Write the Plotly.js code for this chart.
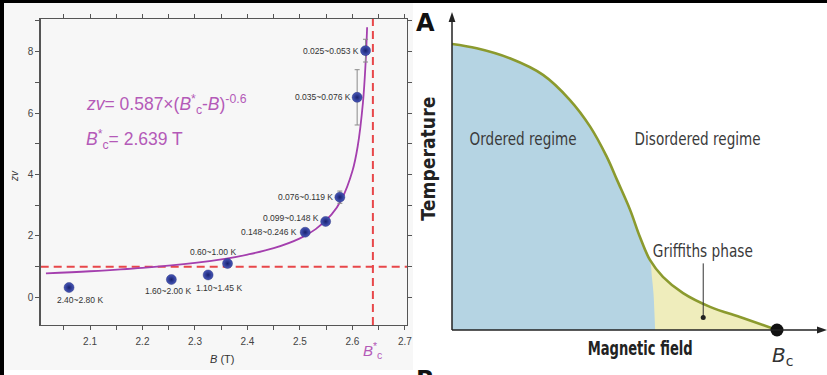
<!DOCTYPE html>
<html><head><meta charset="utf-8">
<script src="https://cdn.plot.ly/plotly-3.0.1.min.js"></script>
<style>html,body{margin:0;padding:0;background:#fff;}#chart{width:827px;height:375px;}</style>
</head><body><div id="chart"></div>
<script>
// ---------- Left panel: zv versus B ----------
const fieldB   = [2.060, 2.255, 2.325, 2.362, 2.510, 2.549, 2.576, 2.609, 2.625];
const zNu      = [0.32, 0.58, 0.73, 1.10, 2.12, 2.47, 3.26, 6.51, 8.03];
const zNuErr   = [null, null, null, null, null, null, 0.2, 0.9, 0.37];
const tempRanges = ['2.40~2.80 K','1.60~2.00 K','1.10~1.45 K','0.60~1.00 K','0.148~0.246 K',
                    '0.099~0.148 K','0.076~0.119 K','0.035~0.076 K','0.025~0.053 K'];
// fitted curve
const fitB   = [2.016, 2.10, 2.20, 2.30, 2.36, 2.40, 2.45, 2.50, 2.53, 2.56, 2.58, 2.60, 2.61, 2.62, 2.625, 2.628];
const fitZNu = [0.78, 0.85, 0.96, 1.12, 1.26, 1.39, 1.60, 1.92, 2.22, 2.69, 3.21, 4.11, 4.91, 6.33, 7.60, 8.79];
const zNuRef = 1;
const BcStar = 2.639;

// ---------- Right panel: schematic phase diagram ----------
const phaseField = [0, 0.076, 0.178, 0.28, 0.363, 0.425, 0.476, 0.508, 0.548, 0.578, 0.609, 0.649, 0.711, 0.794, 0.895, 1.0];
const phaseTemp  = [1.0, 0.985, 0.950, 0.892, 0.804, 0.711, 0.606, 0.524, 0.420, 0.326, 0.245, 0.186, 0.129, 0.081, 0.042, 0.0];
const orderedEdgeField = [0.609, 0.615, 0.620, 0.623, 0.625];
const orderedEdgeTemp  = [0.245, 0.186, 0.128, 0.058, 0.0];
const griffithsPointer = {field: 0.773, tempLow: 0.044, tempHigh: 0.233};
const Bc = 1.0;

// ---------- styling ----------
const W = 827, H = 375;
const px = v => v / W, py = v => 1 - v / H;
const purpleText = '#b45ab8', purpleLine = '#a43fae';
const cond = "'DejaVu Sans',sans-serif";
const arial = "'Liberation Sans',Arial,sans-serif";
const labelShift = [[11,-12],[-3,-11],[11,-13],[-15,12],[-36,0],[-35,3],[-34,0],[-34,0],[-35,0]];
const condensedWidths = {'Ordered regime': 107, 'Disordered regime': 126, 'Griffiths phase': 100,
                         'Magnetic field': 105, 'Temperature': 124};

const split = phaseField.indexOf(orderedEdgeField[0]);
const blueX = phaseField.slice(0, split + 1).concat(orderedEdgeField.slice(1));
const blueY = phaseTemp.slice(0, split + 1).concat(orderedEdgeTemp.slice(1));

const traces = [
  {x: fitB, y: fitZNu, type: 'scatter', mode: 'lines', line: {color: purpleLine, width: 1.8, shape: 'spline'},
   xaxis: 'x', yaxis: 'y', hoverinfo: 'skip'},
  {x: fieldB, y: zNu, type: 'scatter', mode: 'markers', xaxis: 'x', yaxis: 'y',
   error_y: {type: 'data', array: zNuErr, visible: true, color: '#8a8a8a', thickness: 1, width: 2.5},
   marker: {size: 10, color: '#4858bb', gradient: {type: 'radial', color: '#18216e'}, line: {color: '#18216a', width: 0.4}}},
  // phase diagram fills
  {x: phaseField, y: phaseTemp, type: 'scatter', mode: 'lines', fill: 'tozeroy', fillcolor: '#efedbc',
   line: {width: 0, shape: 'spline'}, xaxis: 'x2', yaxis: 'y2', hoverinfo: 'skip'},
  {x: blueX, y: blueY, type: 'scatter', mode: 'lines', fill: 'tozeroy', fillcolor: '#b5d4e3',
   line: {width: 0, shape: 'spline'}, xaxis: 'x2', yaxis: 'y2', hoverinfo: 'skip'},
  {x: phaseField, y: phaseTemp, type: 'scatter', mode: 'lines', line: {color: '#8b9a2e', width: 2.6, shape: 'spline'},
   xaxis: 'x2', yaxis: 'y2', hoverinfo: 'skip'},
  {x: [griffithsPointer.field, griffithsPointer.field], y: [griffithsPointer.tempLow, griffithsPointer.tempHigh],
   type: 'scatter', mode: 'lines', line: {color: '#333', width: 1}, xaxis: 'x2', yaxis: 'y2', hoverinfo: 'skip'},
  {x: [griffithsPointer.field], y: [griffithsPointer.tempLow], type: 'scatter', mode: 'markers',
   marker: {size: 5, color: '#222'}, xaxis: 'x2', yaxis: 'y2', hoverinfo: 'skip'},
  {x: [Bc], y: [0], type: 'scatter', mode: 'markers', marker: {size: 13, color: '#111'}, xaxis: 'x2', yaxis: 'y2', hoverinfo: 'skip'}
];

const annotations = tempRanges.map((t, i) => ({
  x: fieldB[i], y: zNu[i], xref: 'x', yref: 'y', text: t, showarrow: false, xanchor: 'center', yanchor: 'middle',
  xshift: labelShift[i][0], yshift: labelShift[i][1], font: {family: arial, size: 8.5, color: '#333'}
}));

function note(x, y, text, font, extra) {
  return Object.assign({xref: 'paper', yref: 'paper', x: px(x), y: py(y), text: text, showarrow: false,
    xanchor: 'center', yanchor: 'middle', font: font}, extra || {});
}

annotations.push(
  note(84, 104, '<i>zv</i>= 0.587×(<i>B</i><sup>*</sup><sub>c</sub>-<i>B</i>)<sup>-0.6</sup>',
       {family: arial, size: 17.5, color: purpleText}, {xanchor: 'left'}),
  note(84, 140, '<i>B</i><sup>*</sup><sub>c</sub>= 2.639 T', {family: arial, size: 17.5, color: purpleText}, {xanchor: 'left'}),
  {xref: 'x', yref: 'paper', x: BcStar, y: py(350), xanchor: 'center', yanchor: 'middle', showarrow: false,
   text: '<i>B</i><sup>*</sup><sub>c</sub>', font: {family: arial, size: 15, color: purpleText}},
  note(222, 359, '<i>B</i> (T)', {family: arial, size: 11, color: '#333'}),
  note(14, 176, '<i>zv</i>', {family: arial, size: 10, color: '#333'}, {textangle: -90}),
  // right panel texts
  note(425, 23, '<b>A</b>', {family: cond, size: 24, color: '#111'}),
  note(425, 364, '<b>B</b>', {family: cond, size: 24, color: '#111'}, {yanchor: 'top'}),
  note(428, 159, '<b>Temperature</b>', {family: cond, size: 19, color: '#222'}, {textangle: -90}),
  note(640, 348, '<b>Magnetic field</b>', {family: cond, size: 19, color: '#222'}),
  note(782, 356, '<i>B</i><sub>c</sub>', {family: cond, size: 20, color: '#333'}),
  note(523, 138, 'Ordered regime', {family: cond, size: 18, color: '#3a3a3a'}),
  note(697, 138, 'Disordered regime', {family: cond, size: 18, color: '#3a3a3a'}),
  note(703, 250, 'Griffiths phase', {family: cond, size: 18, color: '#3a3a3a'})
);

const shapes = [
  {type: 'rect', xref: 'paper', yref: 'paper', x0: px(4), x1: px(413), y0: py(370), y1: py(3),
   fillcolor: '#f7f7f7', line: {width: 0}, layer: 'below'},
  {type: 'line', xref: 'x', yref: 'y domain', x0: BcStar, x1: BcStar, y0: 0, y1: 1,
   line: {color: '#e8474a', width: 2, dash: '8px,5px'}, layer: 'below'},
  {type: 'line', xref: 'x domain', yref: 'y', x0: 0, x1: 1, y0: zNuRef, y1: zNuRef,
   line: {color: '#e8474a', width: 2, dash: '8px,5px'}, layer: 'below'},
  // right panel axes with arrow heads
  {type: 'line', xref: 'paper', yref: 'paper', x0: px(452), x1: px(452), y0: py(330), y1: py(20),
   line: {color: '#222', width: 1.5}},
  {type: 'path', xref: 'paper', yref: 'paper',
   path: `M ${px(452)},${py(12)} L ${px(448.6)},${py(22)} L ${px(455.4)},${py(22)} Z`, fillcolor: '#222', line: {width: 0}},
  {type: 'line', xref: 'paper', yref: 'paper', x0: px(452), x1: px(820), y0: py(330), y1: py(330),
   line: {color: '#222', width: 1.5}},
  {type: 'path', xref: 'paper', yref: 'paper',
   path: `M ${px(827)},${py(330)} L ${px(817)},${py(326.6)} L ${px(817)},${py(333.4)} Z`, fillcolor: '#222', line: {width: 0}},
  // outer black border of the photographed figure
  {type: 'rect', xref: 'paper', yref: 'paper', x0: 0, x1: 1, y0: py(3), y1: 1, fillcolor: '#000', line: {width: 0}},
  {type: 'rect', xref: 'paper', yref: 'paper', x0: 0, x1: px(4), y0: 0, y1: 1, fillcolor: '#000', line: {width: 0}}
];

const axisCommon = {
  showgrid: false, zeroline: false, showline: true, linecolor: '#555', linewidth: 1.3, mirror: 'allticks',
  ticks: 'outside', ticklen: 4, tickwidth: 1, tickcolor: '#555',
  tickfont: {family: arial, size: 10, color: '#444'}, fixedrange: true
};

const layout = {
  width: W, height: H, margin: {l: 0, r: 0, t: 0, b: 0}, showlegend: false,
  paper_bgcolor: '#fff', plot_bgcolor: 'rgba(0,0,0,0)',
  xaxis: Object.assign({}, axisCommon, {domain: [px(40.7), px(407)], range: [2.006, 2.704],
    tickmode: 'linear', tick0: 2.0, dtick: 0.1, tickformat: '.1f', ticklabelstandoff: 3,
    minor: {ticks: 'outside', ticklen: 4, dtick: 0.05, tick0: 2.0, tickcolor: '#555', showgrid: false}, anchor: 'y'}),
  yaxis: Object.assign({}, axisCommon, {domain: [py(325), py(19)], range: [-0.9, 9.06],
    tickmode: 'linear', tick0: 0, dtick: 2,
    minor: {ticks: 'outside', ticklen: 4, dtick: 1, tick0: 0, tickcolor: '#555', showgrid: false}, anchor: 'x'}),
  xaxis2: {domain: [px(452), 1], range: [0, (W - 452) / 325], visible: false, fixedrange: true, anchor: 'y2'},
  yaxis2: {domain: [0, 1], range: [(330 - H) / 286, 330 / 286], visible: false, fixedrange: true, anchor: 'x2'},
  annotations: annotations, shapes: shapes
};

Plotly.newPlot('chart', traces, layout, {staticPlot: true, displayModeBar: false}).then(() => {
  // the original uses a condensed typeface: compress these labels to the reference widths
  document.querySelectorAll('#chart text.annotation-text').forEach(t => {
    const w = condensedWidths[t.textContent];
    if (w) { t.setAttribute('textLength', w); t.setAttribute('lengthAdjust', 'spacingAndGlyphs'); }
  });
});
</script></body></html>
